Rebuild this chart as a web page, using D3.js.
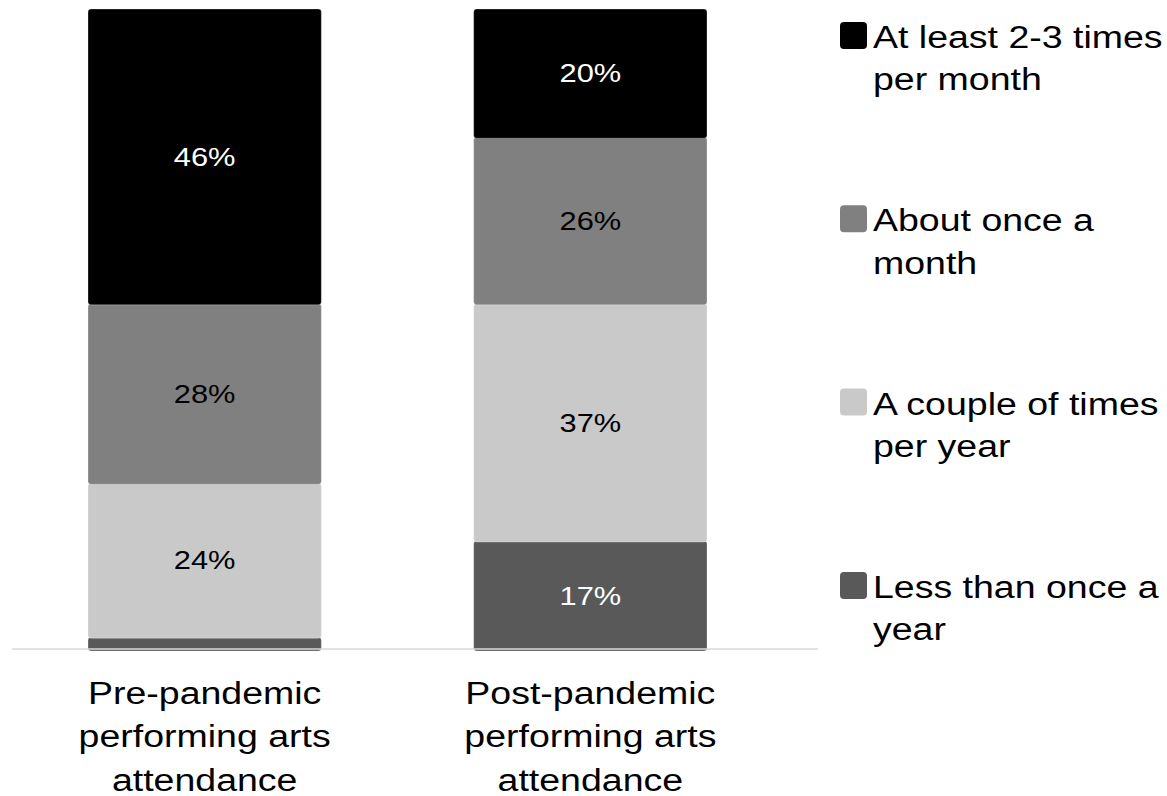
<!DOCTYPE html>
<html>
<head>
<meta charset="utf-8">
<script src="https://cdn.jsdelivr.net/npm/d3@7"></script>
<style>
  body { margin: 0; background: #fff; }
  text { font-family: "Liberation Sans", Arial, sans-serif; }
</style>
</head>
<body>
<div class="chart"></div>
<script>
// categories (each label split into lines)
const categories = ["Pre-pandemic performing arts attendance", "Post-pandemic performing arts attendance"];
const categoryLines = [
  ["Pre-pandemic", "performing arts", "attendance"],
  ["Post-pandemic", "performing arts", "attendance"]
];
// series, bottom to top
const seriesNames = ["Less than once a year", "A couple of times per year", "About once a month", "At least 2-3 times per month"];
const lessThanOnce = [2, 17];
const coupleTimes = [24, 37];
const onceAMonth = [28, 26];
const atLeast23 = [46, 20];
const colors = ["#595959", "#c9c9c9", "#808080", "#000000"];
const labelColors = ["#fff", "#000", "#000", "#fff"];
// legend entries top to bottom (lines)
const legendLines = [
  ["At least 2-3 times", "per month"],
  ["About once a", "month"],
  ["A couple of times", "per year"],
  ["Less than once a", "year"]
];

const W = 1167, H = 796;
const stretch = 1.21; // the source text is wide
const svg = d3.select(".chart").append("svg")
  .attr("width", W).attr("height", H);

const table = categories.map((c, i) => ({
  cat: c,
  "Less than once a year": lessThanOnce[i],
  "A couple of times per year": coupleTimes[i],
  "About once a month": onceAMonth[i],
  "At least 2-3 times per month": atLeast23[i]
}));
const stacked = d3.stack().keys(seriesNames)(table);

const x = d3.scaleBand()
  .domain(categories)
  .range([88, 707])
  .paddingInner(0.395)
  .paddingOuter(0);

const y = d3.scaleLinear()
  .domain([0, 100])
  .range([650, 9]);

// bars
const layers = svg.append("g").selectAll("g")
  .data(stacked)
  .enter().append("g")
  .attr("fill", (d, i) => colors[i]);

layers.selectAll("rect")
  .data(d => d.map(v => ({ v: v, cat: v.data.cat })))
  .enter().append("rect")
  .attr("x", d => x(d.cat))
  .attr("width", x.bandwidth())
  .attr("y", d => y(d.v[1]))
  .attr("height", d => y(d.v[0]) - y(d.v[1]) + 1)
  .attr("rx", 3)
  .attr("stroke", "rgba(255,255,255,0.35)")
  .attr("stroke-width", 0.8);

// value labels
stacked.forEach((layer, si) => {
  svg.append("g").selectAll("text")
    .data(layer.filter(v => v[1] - v[0] >= 5))
    .enter().append("text")
    .attr("transform", d => `translate(${x(d.data.cat) + x.bandwidth() / 2}, ${y((d[0] + d[1]) / 2)}) scale(${stretch}, 1)`)
    .attr("dy", "0.36em")
    .attr("text-anchor", "middle")
    .attr("font-size", 25.5)
    .attr("fill", labelColors[si])
    .text(d => Math.round(d[1] - d[0]) + "%");
});

// baseline
svg.append("line")
  .attr("x1", 12).attr("x2", 818)
  .attr("y1", y(0) - 1).attr("y2", y(0) - 1)
  .attr("stroke", "#d9d9d9")
  .attr("stroke-width", 1.5);

// category labels
categories.forEach((c, i) => {
  const t = svg.append("text")
    .attr("transform", `translate(${x(c) + x.bandwidth() / 2}, 704) scale(${stretch}, 1)`)
    .attr("text-anchor", "middle")
    .attr("font-size", 31)
    .attr("fill", "#000");
  categoryLines[i].forEach((line, j) => {
    t.append("tspan")
      .attr("x", 0)
      .attr("dy", j === 0 ? 0 : 43.5)
      .text(line);
  });
});

// legend
const legend = svg.append("g").attr("transform", "translate(840, 0)");
legendLines.forEach((lines, i) => {
  const base = 48 + i * 183.3;
  legend.append("rect")
    .attr("x", 0).attr("y", base - 26)
    .attr("width", 27).attr("height", 27)
    .attr("rx", 4)
    .attr("fill", colors[colors.length - 1 - i]);
  const t = legend.append("text")
    .attr("transform", `translate(33, ${base}) scale(${stretch}, 1)`)
    .attr("font-size", 31)
    .attr("fill", "#000");
  lines.forEach((line, j) => {
    t.append("tspan")
      .attr("x", 0)
      .attr("dy", j === 0 ? 0 : 42.5)
      .text(line);
  });
});
</script>
</body>
</html>
